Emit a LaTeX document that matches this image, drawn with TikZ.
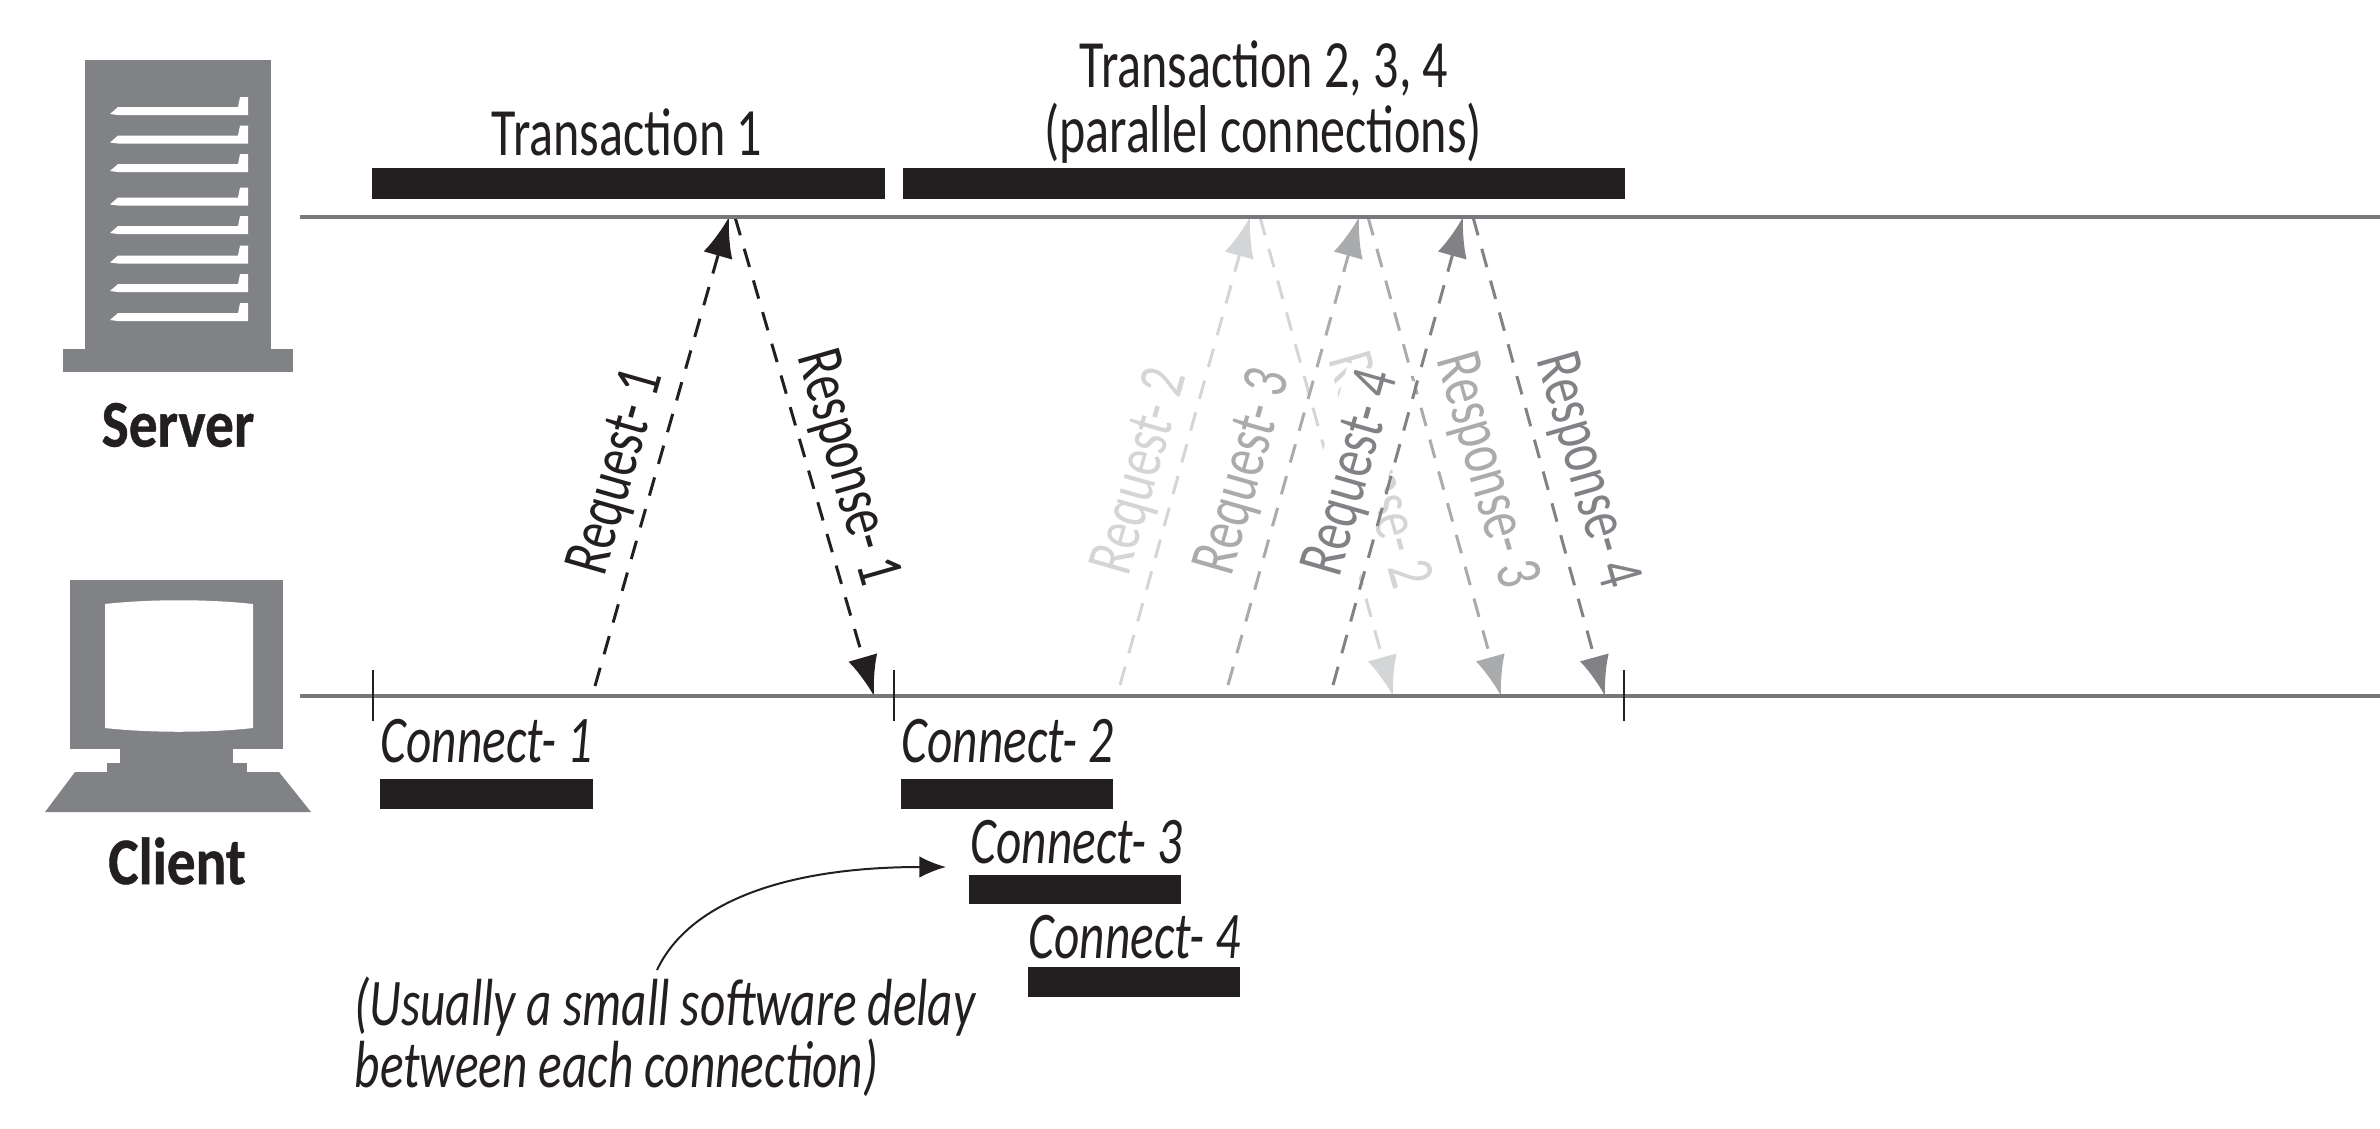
\documentclass[tikz,border=0pt]{standalone}
\usepackage{fontspec}
\usepackage{tikz}
\usetikzlibrary{arrows.meta}
\setmainfont[FakeStretch=.74]{Carlito}
\newfontfamily\iconfont[FakeStretch=.86,FakeBold=.6]{Carlito}

\definecolor{ink}{HTML}{231F20}
\definecolor{icon}{HTML}{808285}
\definecolor{rule}{HTML}{77787B}
\definecolor{grA}{HTML}{D4D5D6}
\definecolor{grB}{HTML}{A9ABAD}
\definecolor{grC}{HTML}{808285}

\tikzset{
  txt/.style={text=ink,inner sep=0pt,font=\fontsize{20.3}{18.6}\selectfont},
  icontxt/.style={txt,font=\fontsize{20}{20}\iconfont\bfseries},
  conn/.style={txt,anchor=base west,font=\fontsize{20}{18.6}\selectfont\itshape},
  msg/.style={line width=.9pt,dash pattern=on 5.7pt off 4.2pt,-{Latex[length=12pt,width=9pt]}},
  msgtxt/.style={txt,font=\fontsize{19.8}{20}\selectfont}
}

\begin{document}
\begin{tikzpicture}[x=.3pt,y=-.3pt]
  \useasboundingbox (0,0) rectangle (2380,1128);

  % server
  \fill[icon] (85,60) rectangle (271,349);
  \fill[icon] (63,349) rectangle (293,372);
  \foreach \y in {115,143.5,172,205.5,234,263.5,292,321}
    \fill[white] (110,\y-1) -- (118,\y-8) -- (238,\y-8) -- (240,\y-18) -- (248,\y-18)
      -- (248,\y) -- (118,\y) -- cycle;
  \node[icontxt] (server) at (178,425) {Server};

  % client
  \fill[icon] (70,580) rectangle (283,749);
  \fill[icon] (120,749) rectangle (233,763);
  \fill[icon] (107,763) rectangle (247,772);
  \fill[icon] (75,772) -- (279,772) -- (311,812) -- (45,812) -- cycle;
  \fill[white] (105,604) .. controls (150,599) and (208,599) .. (253,604)
    -- (253,728) .. controls (208,733) and (150,733) .. (105,728) -- cycle;
  \node[icontxt] (client) at (177,861) {Client};

  % free ends of the arrows
  \coordinate (q1a) at (595,686);  \coordinate (q1b) at (729,217);
  \coordinate (p1a) at (735,217);  \coordinate (p1b) at (874,696);
  \coordinate (q2a) at (1120,685); \coordinate (q2b) at (1250,217);
  \coordinate (p2a) at (1260,217); \coordinate (p2b) at (1393,696);
  \coordinate (q3a) at (1228,685); \coordinate (q3b) at (1359,217);
  \coordinate (p3a) at (1368,217); \coordinate (p3b) at (1501,696);
  \coordinate (q4a) at (1333,685); \coordinate (q4b) at (1463,217);
  \coordinate (p4a) at (1473,217); \coordinate (p4b) at (1605,696);

  % lightest first, the later ones lie over it
  \foreach \from/\to/\col in {q2a/q2b/grA,p2a/p2b/grA}
    \draw[msg,\col] (\from) -- (\to);
  \node[msgtxt,text=grA,rotate=-74] (resp2) at (1377,471) {Response- 2};
  \node[msgtxt,text=grA,rotate=74] (req2) at (1142,472) {Request- 2};
  \foreach \from/\to/\col in {q3a/q3b/grB,p3a/p3b/grB}
    \draw[msg,\col] (\from) -- (\to);
  \node[msgtxt,text=grB,rotate=74] (req3) at (1245,472) {Request- 3};
  \node[msgtxt,text=grB,rotate=-74] (resp3) at (1485,471) {Response- 3};
  \node[msgtxt,text=grC,rotate=74,fill=white,inner ysep=2.5pt] (req4) at (1353,473) {Request- 4};
  \node[msgtxt,text=grC,rotate=-74] (resp4) at (1585,471) {Response- 4};
  \foreach \from/\to/\col in {q4a/q4b/grC,p4a/p4b/grC,q1a/q1b/ink,p1a/p1b/ink}
    \draw[msg,\col] (\from) -- (\to);
  \node[msgtxt,rotate=74] (req1) at (618,472) {Request- 1};
  \node[msgtxt,rotate=-74] (resp1) at (846,468) {Response- 1};

  % time lines
  \coordinate (srvl) at (300,217);  \coordinate (srvr) at (2380,217);
  \coordinate (clil) at (300,696);  \coordinate (clir) at (2380,696);
  \foreach \from/\to in {srvl/srvr,clil/clir}
    \draw[rule,line width=1pt] (\from) -- (\to);
  \foreach \x in {373,894,1624}
    \draw[ink,line width=.8pt] (\x,670) -- (\x,721);

  % bars
  \foreach \xa/\ya/\xb/\yb in {372/168/885/199,903/168/1625/199,380/779/593/809,
    901/779/1113/809,969/875/1181/904,1028/967/1240/997}
    \fill[ink] (\xa,\ya) rectangle (\xb,\yb);

  \node[txt] (trans1) at (627,132) {Transaction 1};
  \node[txt] (trans2) at (1264,68) {Transaction 2, 3, 4};
  \node[txt] (par) at (1263,133) {(parallel connections)};

  \node[conn] (conn1) at (380,762) {Connect- 1};
  \node[conn] (conn2) at (901,762) {Connect- 2};
  \node[conn] (conn3) at (970,863) {Connect- 3};
  \node[conn] (conn4) at (1028,958) {Connect- 4};

  \node[conn,anchor=north west,align=left] (note) at (354,976)
    {(Usually a small software delay\\between each connection)};
  \coordinate (tip) at (946,867);
  \draw[ink,line width=.6pt,-{Latex[length=8pt,width=6.5pt]}] (note.north west)++(303,-6)
    .. controls (690,900) and (790,867) .. (tip);
\end{tikzpicture}
\end{document}
